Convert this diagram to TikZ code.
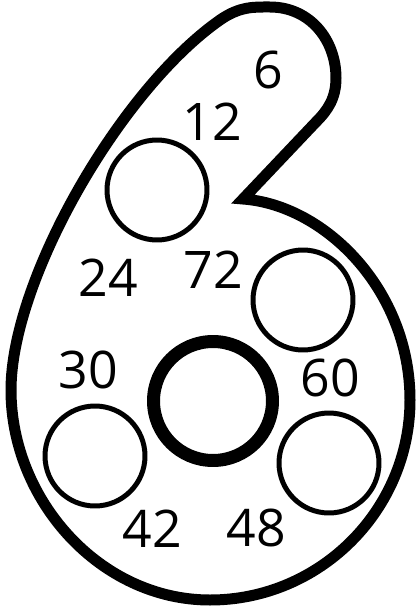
\documentclass[tikz,border=0pt]{standalone}
\usepackage{fontspec}
\setmainfont{Open Sans}

\tikzset{
    num/.style={font=\fontsize{29.5}{30}\selectfont, inner sep=0pt},
    spot/.style={draw, circle, line width=0.1cm, minimum size=2cm, inner sep=0pt},
    bigspot/.style={draw, circle, line width=0.26cm, minimum size=2.38cm, inner sep=0pt}
}

\begin{document}
\begin{tikzpicture}[x=0.02cm,y=-0.02cm]
    \useasboundingbox (0,0) rectangle (419,612);
    % outline of the six
    \draw[line width=0.22cm] (243,199) .. controls (325,205) and (410,290) .. (410,400)
        .. controls (410,510) and (320,600) .. (210,600)
        .. controls (100,600) and (11,500) .. (11,390)
        .. controls (11,280) and (120,90) .. (220,20)
        .. controls (240,6) and (255,7) .. (270,7)
        .. controls (310,7) and (336,40) .. (336,78)
        .. controls (336,98) and (328,110) .. (316,122) -- cycle;
    % circles
    \node[spot] (c1) at (157,190) {};
    \node[spot] (c2) at (303,300) {};
    \node[bigspot] (c3) at (213,401) {};
    \node[spot] (c4) at (95,456) {};
    \node[spot] (c5) at (329,463) {};
    % numbers
    \node[num] (n6) at (268,70) {6};
    \node[num] (n12) at (212,122) {12};
    \node[num] (n24) at (108,278) {24};
    \node[num] (n72) at (213,270) {72};
    \node[num] (n30) at (88,370) {30};
    \node[num] (n60) at (330,378) {60};
    \node[num] (n42) at (152,529) {42};
    \node[num] (n48) at (256,528) {48};
\end{tikzpicture}
\end{document}
